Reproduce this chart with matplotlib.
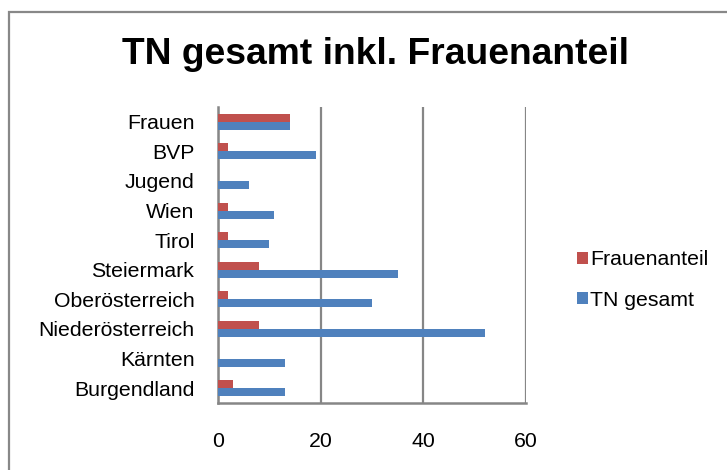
import matplotlib
matplotlib.use("Agg")
import matplotlib.pyplot as plt
from matplotlib.patches import Rectangle
import numpy as np

plt.rcParams['font.family'] = ['Liberation Sans', 'DejaVu Sans']

categories = ["Burgendland", "Kärnten", "Niederösterreich", "Oberösterreich",
              "Steiermark", "Tirol", "Wien", "Jugend", "BVP", "Frauen"]
tn_gesamt = [13, 13, 52, 30, 35, 10, 11, 6, 19, 14]
frauenanteil = [3, 0, 8, 2, 8, 2, 2, 0, 2, 14]
xticks = [0, 20, 40, 60]

RED = "#C0504D"
BLUE = "#4F81BD"
GRID = "#868686"

W, H = 727, 470
fig = plt.figure(figsize=(W / 100, H / 100), dpi=100)
fig.patch.set_facecolor("white")

# outer chart frame
fig.add_artist(Rectangle((9 / W, -0.1), 1.2, 1.1 - 12 / H, transform=fig.transFigure,
                         fill=False, edgecolor="#888888", linewidth=1.6, clip_on=False))

ax = fig.add_axes([218 / W, (H - 403) / H, (526 - 218) / W, (403 - 107) / H])
y = np.arange(len(categories))
h = 0.27
ax.barh(y - h / 2, tn_gesamt, height=h, color=BLUE, label="TN gesamt",
        linewidth=0, zorder=3)
ax.barh(y + h / 2, frauenanteil, height=h, color=RED, label="Frauenanteil",
        linewidth=0, zorder=3)

ax.set_xlim(0, 60)
ax.set_ylim(-0.5, len(categories) - 0.5)
ax.set_yticks(y)
ax.set_yticklabels(categories, fontsize=15.3)
ax.set_xticks(xticks)
ax.set_xticklabels([str(t) for t in xticks], fontsize=15.3)
ax.tick_params(axis='y', length=0, pad=17)
ax.tick_params(axis='x', length=0, pad=21)
ax.xaxis.grid(True, color=GRID, linewidth=1.6, zorder=0)
ax.set_axisbelow(True)
for s in ["top", "right"]:
    ax.spines[s].set_visible(False)
for s in ["left", "bottom"]:
    ax.spines[s].set_color(GRID)
    ax.spines[s].set_linewidth(1.8)

fig.text(375 / W, 1 - 55 / H, "TN gesamt inkl. Frauenanteil", ha="center", va="center",
         fontsize=26.8, fontweight="bold")

handles, labels = ax.get_legend_handles_labels()
leg = fig.legend(handles[::-1], labels[::-1], loc="center left",
                 bbox_to_anchor=(577 / W, 1 - 280 / H), frameon=False, fontsize=15.3,
                 handlelength=0.5, handleheight=0.5, handletextpad=0.1,
                 labelspacing=1.0, borderaxespad=0, borderpad=0)

fig.savefig("out.png", dpi=100, facecolor="white")
